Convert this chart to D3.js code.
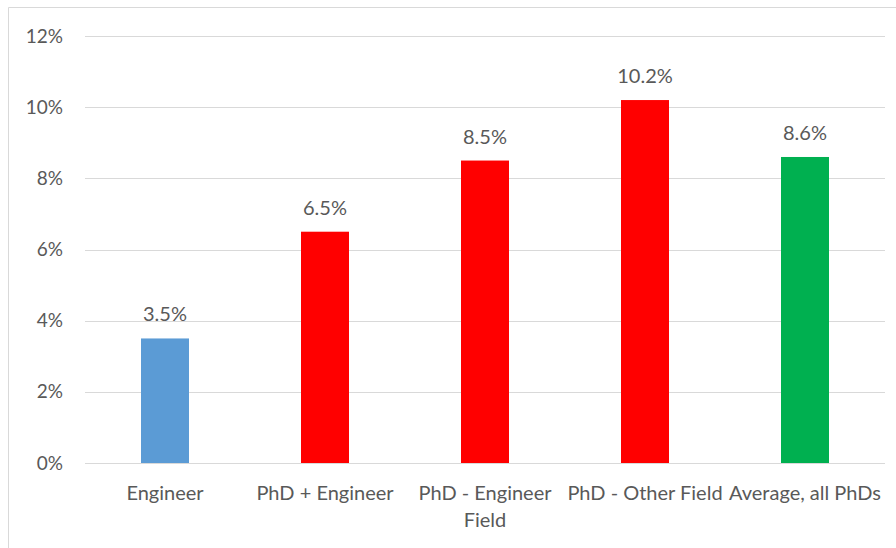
<!DOCTYPE html>
<html><head><meta charset="utf-8">
<script src="https://cdn.jsdelivr.net/npm/d3@7"></script>
<style>html,body{margin:0;padding:0;background:#fff;}svg{display:block;}</style>
</head><body>
<svg id="chart" width="896" height="548"></svg>
<script>
const categories = ["Engineer", "PhD + Engineer", "PhD - Engineer\nField", "PhD - Other Field", "Average, all PhDs"];
const values = [0.035, 0.065, 0.085, 0.102, 0.086];
const colors = ["#5b9bd5", "#ff0000", "#ff0000", "#ff0000", "#00b050"];
const yTicks = [0, 0.02, 0.04, 0.06, 0.08, 0.10, 0.12];

const svg = d3.select("#chart");
const W = 896, H = 548;
const margin = {left: 85, right: 11, top: 36, bottom: 85};
const font = "Lato, 'Open Sans', sans-serif";
const textColor = "#595959";

// chart border
svg.append("path")
  .attr("d", `M8.5,${H + 2}V7.5H${W + 2}`)
  .attr("fill", "none").attr("stroke", "#d9d9d9").attr("stroke-width", 1);

const x = d3.scaleBand().domain(categories).range([margin.left, W - margin.right]).paddingInner(0.7).paddingOuter(0.35);
const y = d3.scaleLinear().domain([0, 0.12]).range([H - margin.bottom, margin.top]);

// gridlines
svg.append("g").selectAll("line").data(yTicks).join("line")
  .attr("x1", margin.left).attr("x2", W - margin.right)
  .attr("y1", d => Math.round(y(d)) + 0.5).attr("y2", d => Math.round(y(d)) + 0.5)
  .attr("stroke", "#d9d9d9").attr("stroke-width", 1);

// y axis labels
const yAxis = d3.axisLeft(y).tickValues(yTicks).tickFormat(d3.format(".0%")).tickSize(0).tickPadding(22);
const gy = svg.append("g").attr("transform", `translate(${margin.left},0)`).call(yAxis);
gy.select(".domain").remove();
gy.selectAll("text").attr("font-family", font).attr("font-size", 19).attr("fill", textColor);

// bars
svg.append("g").selectAll("rect").data(values).join("rect")
  .attr("x", (d, i) => x(categories[i]))
  .attr("width", x.bandwidth())
  .attr("y", d => y(d))
  .attr("height", d => y(0) - y(d))
  .attr("fill", (d, i) => colors[i]);

// data labels
svg.append("g").selectAll("text").data(values).join("text")
  .attr("x", (d, i) => x(categories[i]) + x.bandwidth() / 2)
  .attr("y", d => y(d) - 17)
  .attr("text-anchor", "middle")
  .attr("font-family", font).attr("font-size", 20).attr("fill", textColor)
  .text(d => d3.format(".1%")(d));

// x axis labels
const xl = svg.append("g").selectAll("text").data(categories).join("text")
  .attr("x", d => x(d) + x.bandwidth() / 2)
  .attr("y", y(0) + 37)
  .attr("text-anchor", "middle")
  .attr("font-family", font).attr("font-size", 20).attr("fill", textColor);
xl.each(function(d) {
  const t = d3.select(this);
  d.split("\n").forEach((line, i) => {
    t.append("tspan").attr("x", x(d) + x.bandwidth() / 2).attr("dy", i === 0 ? 0 : 27).text(line);
  });
});
</script>
</body></html>
